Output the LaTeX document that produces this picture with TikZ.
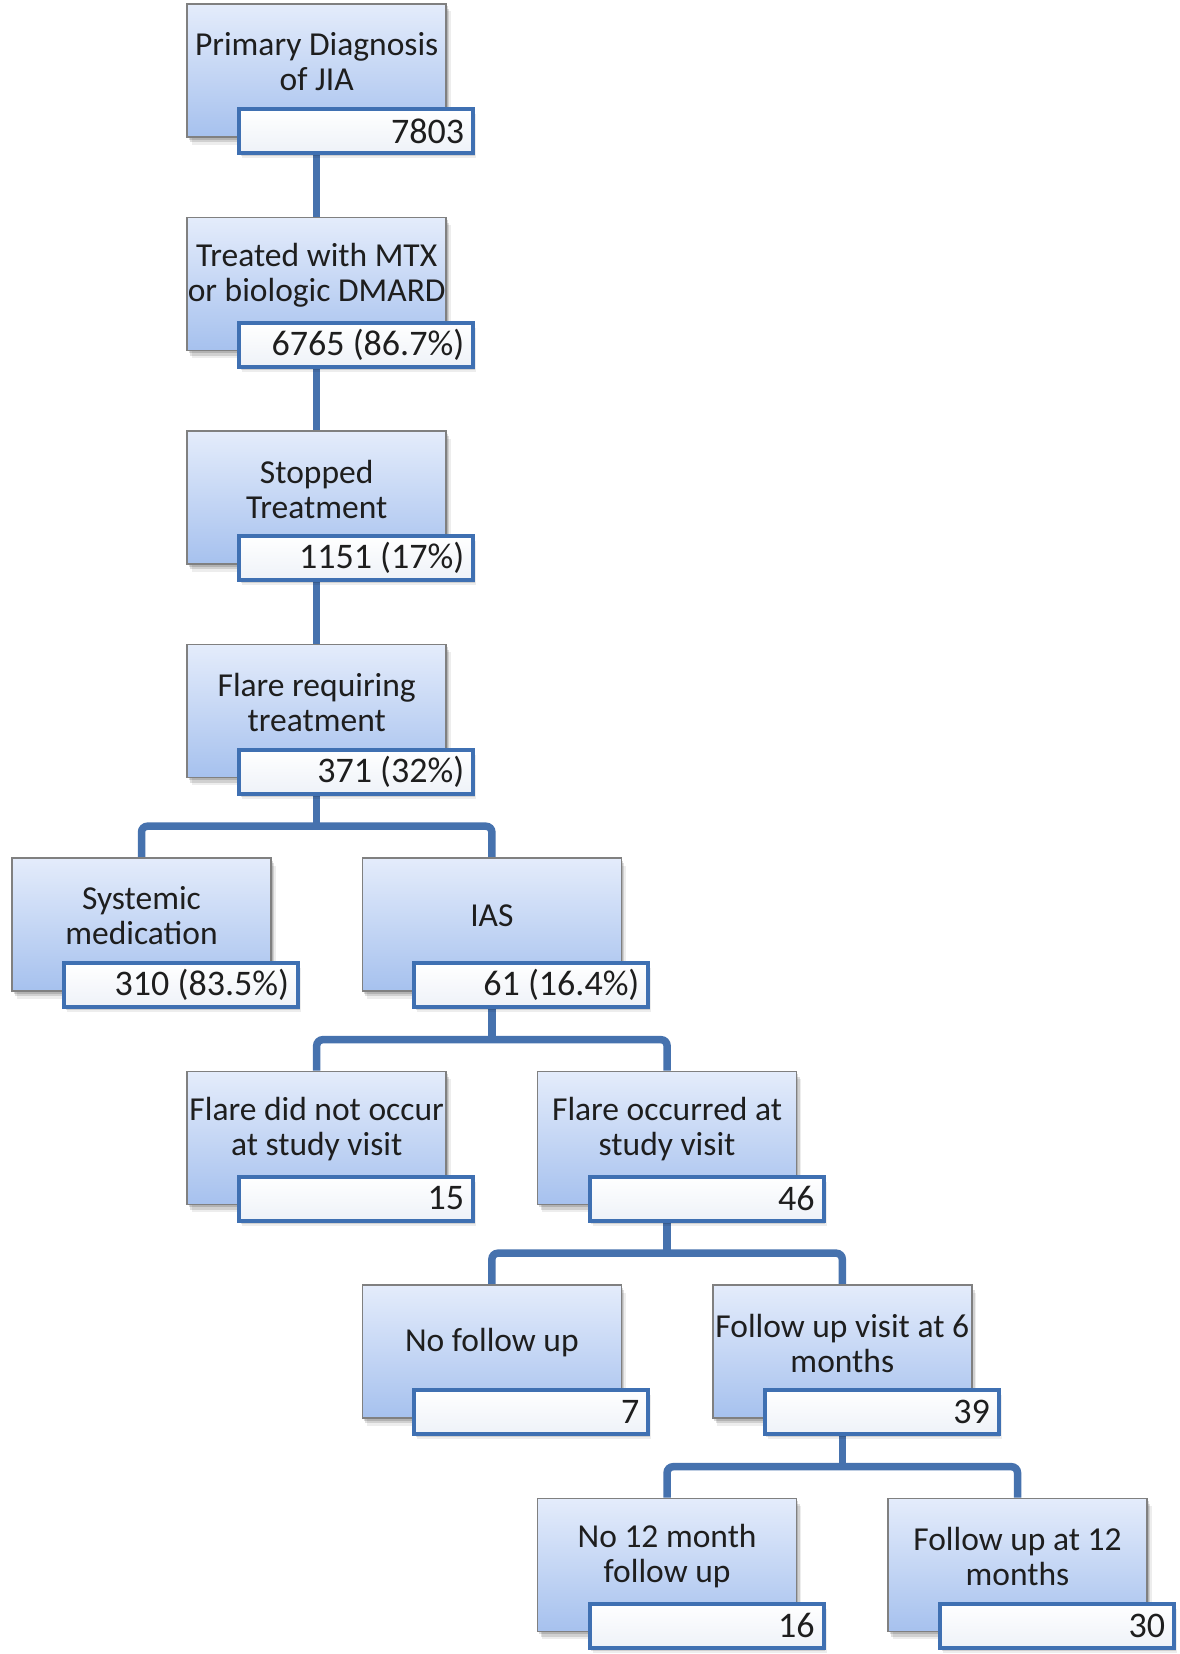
\documentclass[tikz,border=0pt]{standalone}
\usepackage{fontspec}
\setmainfont{Carlito}
\usetikzlibrary{shadows,backgrounds,calc}
\definecolor{boxtop}{HTML}{E4ECFB}
\definecolor{boxbot}{HTML}{A6C1EE}
\definecolor{boxline}{HTML}{808080}
\definecolor{numline}{HTML}{3F70B2}
\definecolor{numbot}{HTML}{EEF2F8}
\definecolor{connc}{HTML}{4672AE}
\definecolor{txt}{HTML}{1E1E1E}
\tikzset{
  softshadow/.style={
    drop shadow={shadow xshift=1.5pt, shadow yshift=-2.5pt, opacity=0.14, fill=black},
    drop shadow={shadow xshift=3pt, shadow yshift=-5pt, opacity=0.12, fill=black},
    drop shadow={shadow xshift=4.5pt, shadow yshift=-7.5pt, opacity=0.07, fill=black}},
  bigbox/.style={draw=boxline, line width=1.6pt, top color=boxtop, bottom color=boxbot,
    minimum width=259pt, minimum height=133pt, inner sep=0pt, softshadow},
  boxtext/.style={align=center, text=txt, inner sep=0pt, font=\fontsize{33.5}{35}\selectfont},
  numbox/.style={draw=numline, line width=4pt, top color=white, bottom color=numbot,
    minimum width=234pt, minimum height=44pt, text width=216pt, align=flush right, inner xsep=9pt, inner ysep=0pt,
    text=txt, font=\fontsize{36}{38}\selectfont,
    drop shadow={shadow xshift=1.5pt, shadow yshift=-3pt, opacity=0.12, fill=black},
    drop shadow={shadow xshift=3pt, shadow yshift=-5pt, opacity=0.07, fill=black}},
  conn/.style={draw=connc, line width=7.5pt}
}
\newcommand{\flowbox}[5]{%
  \pgfmathsetmacro{\fbx}{11+175.2*#2}%
  \pgfmathsetmacro{\fby}{3+213.5*#3}%
  \node[bigbox] (b#1) at (\fbx+130.5, \fby+67.5) {};
  \node[boxtext] (t#1) at (\fbx+130.5, \fby+59) {#4};
  \node[numbox] (n#1) at (\fbx+170, \fby+128) {#5};
}
\begin{document}
\begin{tikzpicture}[x=1pt, y=-1pt]
\useasboundingbox (0,0) rectangle (1180,1654);
\flowbox{1}{1}{0}{Primary Diagnosis\\of JIA}{7803}
\flowbox{2}{1}{1}{Treated with MTX\\or biologic DMARD}{6765 (86.7\%)}
\flowbox{3}{1}{2}{Stopped\\Treatment}{1151 (17\%)}
\flowbox{4}{1}{3}{Flare requiring\\treatment}{371 (32\%)}
\flowbox{5a}{0}{4}{Systemic\\medication}{310 (83.5\%)}
\flowbox{5b}{2}{4}{IAS}{61 (16.4\%)}
\flowbox{6a}{1}{5}{Flare did not occur\\at study visit}{15}
\flowbox{6b}{3}{5}{Flare occurred at\\study visit}{46}
\flowbox{7a}{2}{6}{No follow up}{7}
\flowbox{7b}{4}{6}{Follow up visit at 6\\months}{39}
\flowbox{8a}{3}{7}{No 12 month\\follow up}{16}
\flowbox{8b}{5}{7}{Follow up at 12\\months}{30}
\begin{scope}[on background layer]
\draw[conn] (b1.south |- n1.south) -- (b2.north);
\draw[conn] (b2.south |- n2.south) -- (b3.north);
\draw[conn] (b3.south |- n3.south) -- (b4.north);
\draw[conn, rounded corners=6pt] (b5a.north) -- ++(0,-31) coordinate (j4) -| (b5b.north);
\draw[conn] (b4.south |- n4.south) -- (b4.south |- j4);
\draw[conn, rounded corners=6pt] (b6a.north) -- ++(0,-31) coordinate (j5) -| (b6b.north);
\draw[conn] (b5b.south |- n5b.south) -- (b5b.south |- j5);
\draw[conn, rounded corners=6pt] (b7a.north) -- ++(0,-31) coordinate (j6) -| (b7b.north);
\draw[conn] (b6b.south |- n6b.south) -- (b6b.south |- j6);
\draw[conn, rounded corners=6pt] (b8a.north) -- ++(0,-31) coordinate (j7) -| (b8b.north);
\draw[conn] (b7b.south |- n7b.south) -- (b7b.south |- j7);
\end{scope}
\end{tikzpicture}
\end{document}
